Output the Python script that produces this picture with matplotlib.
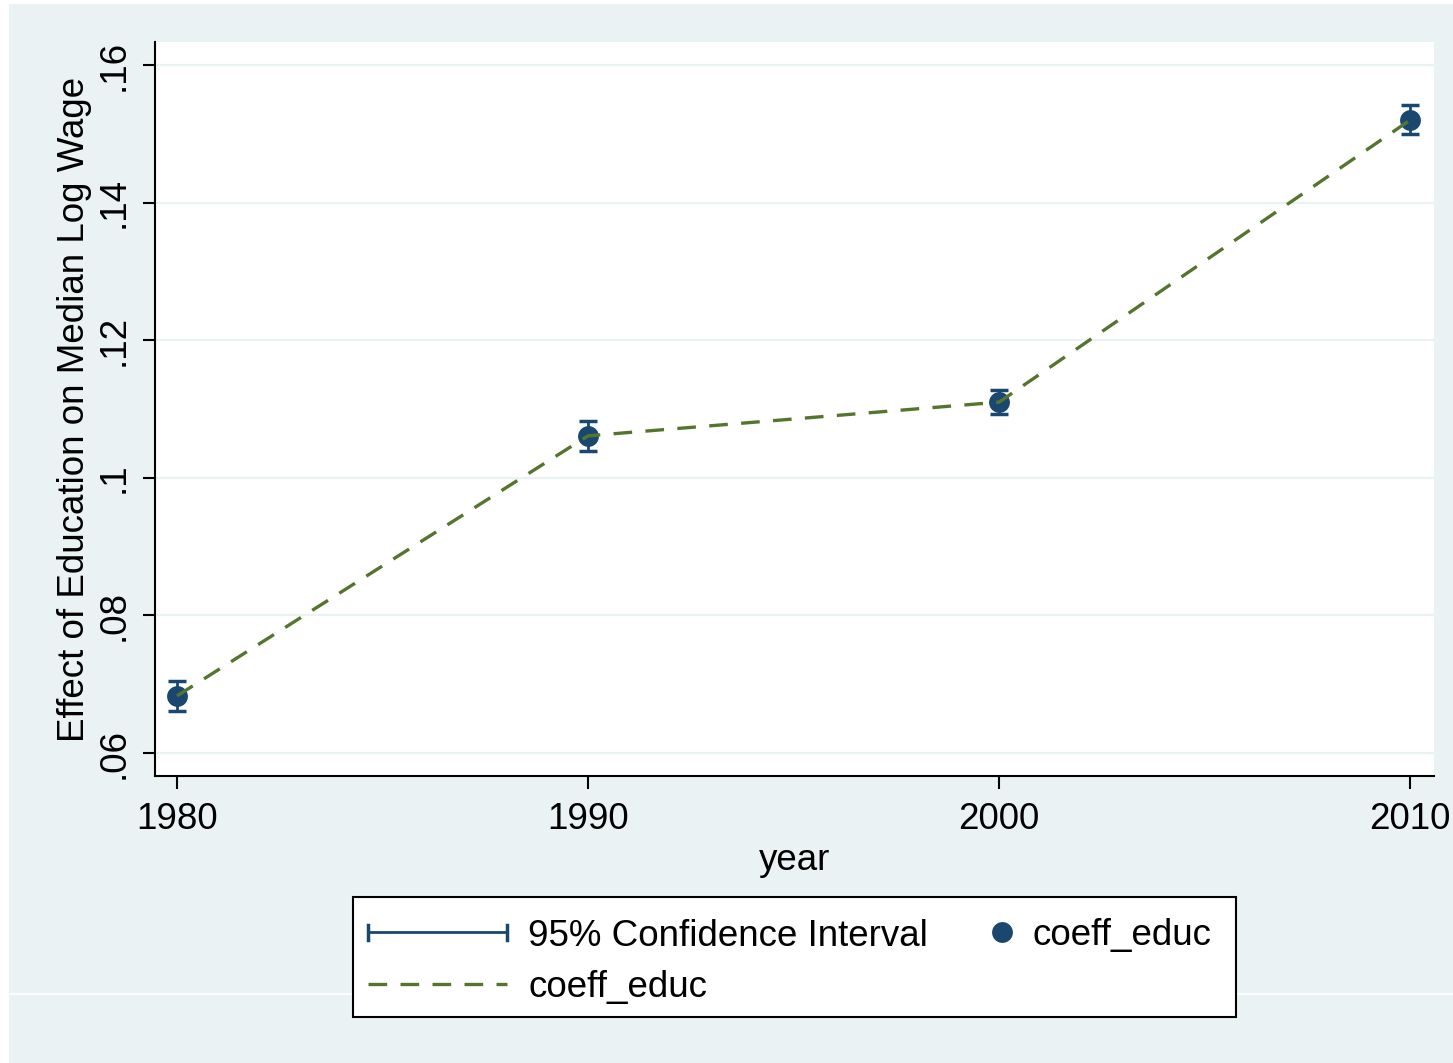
import matplotlib
matplotlib.use("Agg")
import matplotlib.pyplot as plt
from matplotlib.patches import Rectangle
from matplotlib.lines import Line2D
import numpy as np

# Estimated returns to education by census year, with 95% confidence bounds
years = [1980, 1990, 2000, 2010]
coeff_educ = [0.0683, 0.1061, 0.1110, 0.1520]
ci_low = [0.0661, 0.1039, 0.1093, 0.1499]
ci_high = [0.0705, 0.1082, 0.1128, 0.1542]
y_ticks = [0.06, 0.08, 0.10, 0.12, 0.14, 0.16]
y_tick_labels = [".06", ".08", ".1", ".12", ".14", ".16"]
x_ticks = [1980, 1990, 2000, 2010]

NAVY = "#1a476f"
GREEN = "#55752f"
BG = "#eaf2f3"
W, H = 1453, 1063

plt.rcParams["font.family"] = ["Liberation Sans", "DejaVu Sans"]
FS = 26.5

fig = plt.figure(figsize=(W / 100, H / 100), dpi=100)
fig.patch.set_facecolor("white")

# Graph region background
fig.add_artist(Rectangle((9 / W, 0), 1, (H - 4) / H, transform=fig.transFigure,
                         facecolor=BG, edgecolor="none", zorder=0))
fig.add_artist(Line2D([9 / W, 1], [1 - 994 / H, 1 - 994 / H], transform=fig.transFigure,
                      color="white", lw=1.2, zorder=0.5))

ax = fig.add_axes([155 / W, 1 - 776 / H, (1434 - 155) / W, (776 - 42) / H])
ax.set_facecolor("white")
ax.set_xlim(1979.465, 2010.58)
ax.set_ylim(0.05666, 0.16334)

for yt in y_ticks:
    ax.axhline(yt, color=BG, lw=1.6, zorder=1)

yerr = [np.array(coeff_educ) - np.array(ci_low), np.array(ci_high) - np.array(coeff_educ)]
ax.errorbar(years, coeff_educ, yerr=yerr, fmt="none", ecolor=NAVY, elinewidth=2.0,
            capsize=6.8, capthick=2.5, zorder=3)
ax.plot(years, coeff_educ, "o", color=NAVY, markersize=15, markeredgewidth=0, zorder=4)
ax.plot(years, coeff_educ, color=GREEN, lw=2.4, dashes=(5.6, 4.0), zorder=5)

for s in ["top", "right"]:
    ax.spines[s].set_visible(False)
for s in ["left", "bottom"]:
    ax.spines[s].set_linewidth(1.5)
    ax.spines[s].set_color("black")

ax.set_xticks(x_ticks)
ax.set_xticklabels([str(x) for x in x_ticks], fontsize=FS)
ax.set_yticks(y_ticks)
ax.set_yticklabels(y_tick_labels, fontsize=FS, rotation=90, va="center")
ax.tick_params(axis="both", length=9, width=1.5, direction="out", color="black")
ax.tick_params(axis="x", pad=10)
ax.tick_params(axis="y", pad=8)
ax.set_xlabel("year", fontsize=FS, labelpad=4)
ax.set_ylabel("Effect of Education on Median Log Wage", fontsize=FS, labelpad=3)

# Legend box
def fx(px):
    return px / W

def fy(py):
    return 1 - py / H

fig.add_artist(Rectangle((fx(353), fy(1017)), fx(1236) - fx(353), fy(897) - fy(1017),
                         transform=fig.transFigure, facecolor="white",
                         edgecolor="black", lw=1.5, zorder=2))
# confidence interval key
fig.add_artist(Line2D([fx(368), fx(507)], [fy(932), fy(932)], transform=fig.transFigure,
                      color=NAVY, lw=2.0, zorder=3))
for xc in (368, 507):
    fig.add_artist(Line2D([fx(xc), fx(xc)], [fy(925), fy(940)], transform=fig.transFigure,
                          color=NAVY, lw=2.5, zorder=3))
fig.text(fx(528), fy(932), "95% Confidence Interval", fontsize=FS, va="center_baseline",
         ha="left", zorder=3)
# marker key
fig.add_artist(Line2D([fx(1002)], [fy(932)], transform=fig.transFigure, marker="o",
                      color=NAVY, markersize=15, markeredgewidth=0, linestyle="none", zorder=3))
fig.text(fx(1032), fy(932), "coeff_educ", fontsize=FS, va="center_baseline", ha="left", zorder=3)
# dashed line key
fig.add_artist(Line2D([fx(368), fx(507)], [fy(984), fy(984)], transform=fig.transFigure,
                      color=GREEN, lw=2.4, dashes=(5.6, 4.0), zorder=3))
fig.text(fx(528), fy(984), "coeff_educ", fontsize=FS, va="center_baseline", ha="left", zorder=3)

fig.savefig("out.png", dpi=100, facecolor=fig.get_facecolor())
